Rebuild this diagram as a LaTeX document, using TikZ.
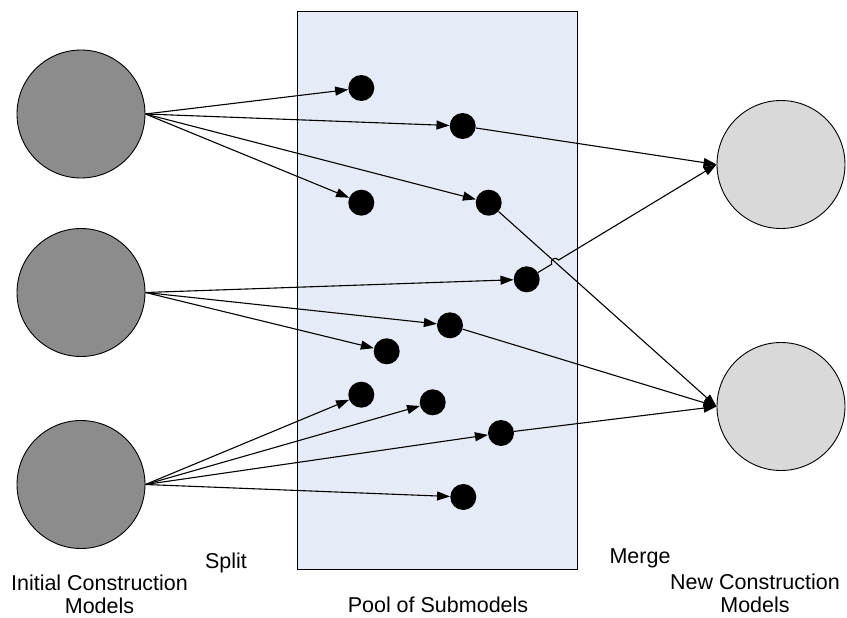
\documentclass[tikz,border=0pt]{standalone}
\usepackage{fontspec}
\setmainfont{Liberation Sans}
\usetikzlibrary{arrows.meta,calc}
\definecolor{poolfill}{RGB}{230,236,247}
\definecolor{initfill}{RGB}{140,140,140}
\definecolor{newfill}{RGB}{217,217,217}
\begin{document}
\begin{tikzpicture}[x=1pt,y=-1pt,
  model/.style={circle,draw=black,line width=0.9pt,minimum size=128pt,inner sep=0pt},
  initmodel/.style={model,fill=initfill},
  newmodel/.style={model,fill=newfill},
  submodel/.style={circle,fill=black,minimum size=26pt,inner sep=0pt},
  flow/.style={line width=1.1pt,-{Triangle[length=13pt,width=9pt]}},
  label/.style={inner sep=0pt,anchor=base,align=center,font=\fontsize{21.5}{22.7}\selectfont}]
\useasboundingbox (0,0) rectangle (847,618);

% pool of submodels
\node[draw=black,line width=0.9pt,fill=poolfill,minimum width=280pt,minimum height=558pt,inner sep=0pt] (pool) at (437.5,290) {};

% initial construction models
\node[initmodel] (i1) at (81,114) {};
\node[initmodel] (i2) at (81,292.5) {};
\node[initmodel] (i3) at (81,484.5) {};

% new construction models
\node[newmodel] (n1) at (781,164.5) {};
\node[newmodel] (n2) at (781,406.5) {};

% submodels
\node[submodel] (s1) at (361.3,88) {};
\node[submodel] (s2) at (462.7,126) {};
\node[submodel] (s3) at (361.3,202.7) {};
\node[submodel] (s4) at (488.7,202.7) {};
\node[submodel] (s5) at (526.7,279.3) {};
\node[submodel] (s6) at (450,325.3) {};
\node[submodel] (s7) at (386.7,351.3) {};
\node[submodel] (s8) at (361.3,394.7) {};
\node[submodel] (s9) at (432.7,402.3) {};
\node[submodel] (s10) at (501,433) {};
\node[submodel] (s11) at (463.3,497) {};

% split
\foreach \s in {s1,s2,s3,s4} \draw[flow] (i1.east) -- (\s);
\foreach \s in {s5,s6,s7} \draw[flow] (i2.east) -- (\s);
\foreach \s in {s8,s9,s10,s11} \draw[flow] (i3.east) -- (\s);

% merge
\draw[flow] (s2) -- (n1.west);
\draw[flow] (s4) -- (n2.west);
\draw[flow] (s6) -- (n2.west);
\draw[flow] (s10) -- (n2.west);
\coordinate (hop) at (intersection of s5.center--n1.west and s4.center--n2.west);
\draw[flow] (s5) -- ($(hop)!4pt!(s5.center)$)
  .. controls +(-2.6,-4.3) and +(-2.6,-4.3) .. ($(hop)!4pt!(n1.west)$) -- (n1.west);

% labels
\node[label] (lsplit) at (226,568) {Split};
\node[label] (lmerge) at (640,563) {Merge};
\node[label] (linit) at (99.5,613) {Initial Construction\\Models};
\node[label] (lnew) at (755,612) {New Construction\\Models};
\node[label] (lpool) at (438,612) {Pool of Submodels};
\end{tikzpicture}
\end{document}
